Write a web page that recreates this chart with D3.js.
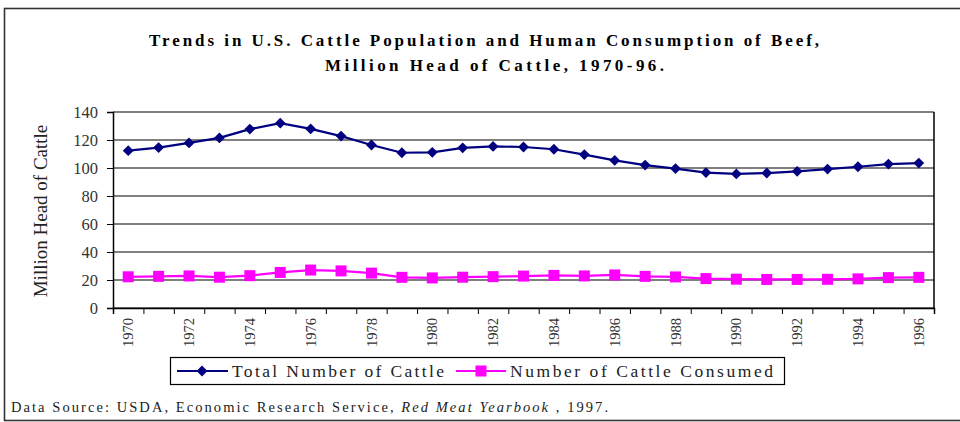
<!DOCTYPE html>
<html>
<head>
<meta charset="utf-8">
<script src="https://d3js.org/d3.v7.min.js"></script>
<style>
body { margin: 0; background: #fff; }
svg text { font-family: "Liberation Serif", "Times New Roman", serif; }
</style>
</head>
<body>
<script>
// years on the category axis
const years = d3.range(1970, 1997);
// million head
const totalCattle = [112.4, 114.6, 117.9, 121.5, 127.8, 132.0, 127.9, 122.8, 116.4, 110.9,
  111.2, 114.4, 115.4, 115.0, 113.4, 109.6, 105.4, 102.1, 99.6, 96.7,
  95.8, 96.4, 97.6, 99.2, 100.9, 102.8, 103.5];
const cattleConsumed = [22.3, 22.6, 22.9, 22.0, 23.1, 25.4, 27.1, 26.5, 24.9, 21.9,
  21.5, 22.0, 22.4, 22.8, 23.3, 22.9, 23.6, 22.6, 22.2, 21.0,
  20.6, 20.4, 20.4, 20.5, 20.8, 21.7, 21.9];
const yTicks = [0, 20, 40, 60, 80, 100, 120, 140];
const labelYears = years.filter(y => y % 2 === 0);

const width = 960, height = 422;
const plotL = 113, plotR = 934, plotT = 112, plotB = 308;
const navy = "#000080", magenta = "#ff00ff";
const serif = "'Liberation Serif', 'Times New Roman', serif";

const svg = d3.select("body").append("svg")
  .attr("width", width)
  .attr("height", height)
  .attr("font-family", serif);

// outer frame (runs off the right edge like the original)
svg.append("rect")
  .attr("x", 4.5).attr("y", 8.5)
  .attr("width", 980).attr("height", 412)
  .attr("fill", "none")
  .attr("stroke", "#333")
  .attr("stroke-width", 1.6);

// title
svg.append("text")
  .attr("x", 149).attr("y", 46)
  .attr("textLength", 670).attr("lengthAdjust", "spacing")
  .attr("font-size", 17).attr("font-weight", "bold")
  .text("Trends in U.S. Cattle Population and Human Consumption of Beef,");
svg.append("text")
  .attr("x", 325).attr("y", 71)
  .attr("textLength", 339).attr("lengthAdjust", "spacing")
  .attr("font-size", 17).attr("font-weight", "bold")
  .text("Million Head of Cattle, 1970-96.");

const x = d3.scaleBand().domain(years).range([plotL, plotR]).padding(0);
const xEdge = d3.scaleLinear().domain([0, years.length]).range([plotL, plotR]);
const y = d3.scaleLinear().domain([0, 140]).range([plotB, plotT]);

// gridlines
svg.append("g")
  .selectAll("line")
  .data(yTicks)
  .join("line")
  .attr("x1", plotL).attr("x2", plotR)
  .attr("y1", d => y(d)).attr("y2", d => y(d))
  .attr("stroke", "#000").attr("stroke-width", 1);

// right border of plot
svg.append("line")
  .attr("x1", plotR).attr("x2", plotR)
  .attr("y1", plotT).attr("y2", plotB)
  .attr("stroke", "#000").attr("stroke-width", 1.5);

// y axis
const yAxis = svg.append("g")
  .attr("transform", `translate(${plotL},0)`)
  .call(d3.axisLeft(y).tickValues(yTicks).tickSize(6).tickPadding(9).tickFormat(d3.format("d")));
yAxis.attr("font-family", serif);
yAxis.select(".domain").attr("stroke", "#000").attr("stroke-width", 1.5);
yAxis.selectAll(".tick line").attr("stroke", "#000");
yAxis.selectAll("text")
  .attr("font-size", 16.5).attr("fill", "#333");

// x axis ticks at category edges
const xAxis = svg.append("g")
  .attr("transform", `translate(0,${plotB})`)
  .call(d3.axisBottom(xEdge).tickValues(d3.range(years.length + 1)).tickSize(6).tickFormat(""));
xAxis.select(".domain").attr("stroke", "#000").attr("stroke-width", 1.5);
xAxis.selectAll(".tick line").attr("stroke", "#000");

// year labels, rotated
svg.append("g")
  .selectAll("text")
  .data(labelYears)
  .join("text")
  .attr("transform", d => `translate(${x(d) + x.bandwidth() / 2},318) rotate(-90)`)
  .attr("text-anchor", "end")
  .attr("dy", "0.35em")
  .attr("font-size", 14.5)
  .attr("fill", "#333")
  .text(d => d);

// y axis title
svg.append("text")
  .attr("transform", "translate(47,211) rotate(-90)")
  .attr("text-anchor", "middle")
  .attr("font-size", 19)
  .attr("fill", "#222")
  .text("Million Head of Cattle");

const line = d3.line()
  .x((d, i) => x(years[i]) + x.bandwidth() / 2)
  .y(d => y(d));

const diamond = d3.symbol().type(d3.symbolDiamond2).size(75);

// total cattle
svg.append("path")
  .datum(totalCattle)
  .attr("d", line)
  .attr("fill", "none")
  .attr("stroke", navy)
  .attr("stroke-width", 2.2);
svg.append("g")
  .selectAll("path")
  .data(totalCattle)
  .join("path")
  .attr("transform", (d, i) => `translate(${x(years[i]) + x.bandwidth() / 2},${y(d)})`)
  .attr("d", diamond)
  .attr("fill", navy);

// consumed
svg.append("path")
  .datum(cattleConsumed)
  .attr("d", line)
  .attr("fill", "none")
  .attr("stroke", magenta)
  .attr("stroke-width", 2.2);
svg.append("g")
  .selectAll("rect")
  .data(cattleConsumed)
  .join("rect")
  .attr("x", (d, i) => x(years[i]) + x.bandwidth() / 2 - 5.5)
  .attr("y", d => y(d) - 5.5)
  .attr("width", 11).attr("height", 11)
  .attr("fill", magenta);

// legend
const lg = svg.append("g");
lg.append("rect")
  .attr("x", 170.5).attr("y", 357.5)
  .attr("width", 614).attr("height", 27)
  .attr("fill", "#fff")
  .attr("stroke", "#000").attr("stroke-width", 1.2);
lg.append("line")
  .attr("x1", 177).attr("x2", 228).attr("y1", 371).attr("y2", 371)
  .attr("stroke", navy).attr("stroke-width", 2.2);
lg.append("path")
  .attr("transform", "translate(202,371)")
  .attr("d", diamond)
  .attr("fill", navy);
lg.append("text")
  .attr("x", 232).attr("y", 377)
  .attr("textLength", 212).attr("lengthAdjust", "spacing")
  .attr("font-size", 17.5).attr("fill", "#222")
  .text("Total Number of Cattle");
lg.append("line")
  .attr("x1", 456).attr("x2", 506).attr("y1", 371).attr("y2", 371)
  .attr("stroke", magenta).attr("stroke-width", 2.2);
lg.append("rect")
  .attr("x", 475.5).attr("y", 365.5).attr("width", 11).attr("height", 11)
  .attr("fill", magenta);
lg.append("text")
  .attr("x", 510).attr("y", 377)
  .attr("textLength", 263).attr("lengthAdjust", "spacing")
  .attr("font-size", 17.5).attr("fill", "#222")
  .text("Number of Cattle Consumed");

// source note
const src = svg.append("text")
  .attr("x", 11).attr("y", 412)
  .attr("font-size", 14.5)
  .attr("textLength", 597).attr("lengthAdjust", "spacing")
  .attr("fill", "#222");
src.append("tspan").text("Data Source: USDA, Economic Research Service, ");
src.append("tspan").attr("font-style", "italic").text("Red Meat Yearbook");
src.append("tspan").text(" , 1997.");
</script>
</body>
</html>
